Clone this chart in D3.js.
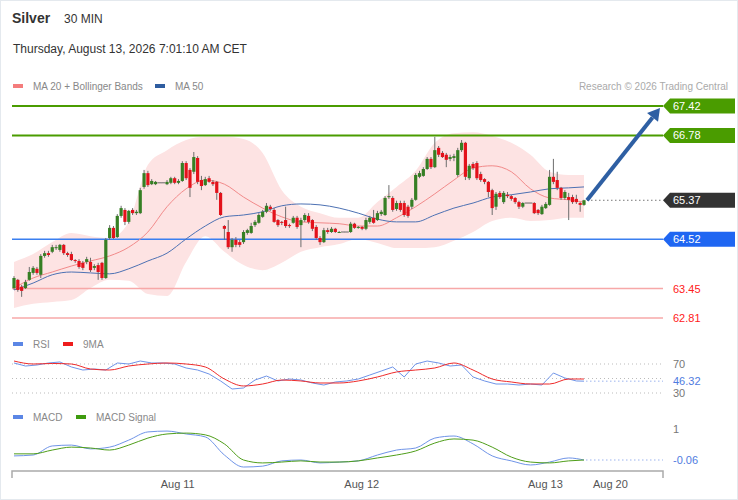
<!DOCTYPE html>
<html>
<head>
<meta charset="utf-8">
<style>
  body { margin: 0; background: #fff; }
  svg text { font-family: "Liberation Sans", Arial, sans-serif; }
</style>
</head>
<body>
<div id="chart"></div>
<script src="https://cdnjs.cloudflare.com/ajax/libs/d3/7.8.5/d3.min.js"></script>
<script>
// ---------------- data (30 min candles, Silver) ----------------
var opens = [63.46,63.64,63.49,63.46,63.64,63.79,63.88,63.75,64.16,64.22,
  64.25,64.33,64.29,64.40,64.22,64.20,64.07,64.05,64.01,64.03,
  64.03,63.90,63.96,64.01,63.68,64.55,64.77,64.57,65.03,65.16,
  64.90,65.16,65.09,65.09,65.66,65.96,65.72,65.72,65.75,65.75,
  65.72,65.75,65.85,65.75,65.79,66.18,66.03,65.99,66.29,65.81,
  65.70,65.85,65.77,65.77,65.53,64.81,64.68,64.35,64.51,64.46,
  64.46,64.66,64.66,64.83,64.88,65.01,65.12,65.23,65.16,64.94,
  64.90,64.94,64.83,64.88,64.99,64.83,64.94,65.03,64.94,64.79,
  64.55,64.46,64.72,64.68,64.75,64.68,64.68,64.68,64.68,64.86,
  64.77,64.79,64.75,64.90,64.99,64.94,65.07,65.05,65.44,65.42,
  65.18,65.31,65.31,65.23,65.23,65.38,65.88,65.90,66.05,66.27,
  66.09,66.51,66.40,66.36,66.27,66.29,65.92,66.46,66.62,65.85,
  66.16,66.18,65.94,65.83,65.77,65.59,65.23,65.53,65.33,65.49,
  65.46,65.42,65.33,65.23,65.31,65.31,65.31,65.16,65.07,65.20,
  65.27,65.88,65.81,65.64,65.42,65.44,65.44,65.40,65.31,65.27];
var highs = [63.72,63.66,63.53,63.64,63.92,63.94,63.92,64.20,64.27,64.27,
  64.40,64.40,64.42,64.42,64.25,64.25,64.09,64.09,64.05,64.14,
  64.12,63.98,64.01,64.03,64.55,64.83,64.81,65.07,65.25,65.20,
  65.16,65.20,65.16,65.64,66.03,66.01,65.83,65.79,65.75,65.75,
  65.81,65.88,65.88,65.83,66.22,66.22,66.07,66.42,66.33,65.90,
  65.88,65.90,65.81,65.79,65.55,64.83,64.94,64.55,64.57,64.51,
  64.72,64.75,64.88,64.94,65.09,65.16,65.31,65.27,65.20,64.96,
  64.92,65.23,64.86,65.03,65.03,64.99,65.09,65.09,64.96,64.83,
  64.59,64.77,64.77,64.79,64.77,64.70,64.68,64.68,64.90,64.88,
  64.81,64.81,64.99,65.03,65.16,65.14,65.16,65.46,65.70,65.46,
  65.36,65.36,65.36,65.27,65.42,65.96,66.01,66.09,66.31,66.31,
  66.75,66.55,66.44,66.40,66.36,66.38,66.51,66.68,66.64,66.16,
  66.20,66.22,65.99,65.85,65.79,65.62,65.55,65.57,65.57,65.55,
  65.49,65.44,65.36,65.33,65.31,65.31,65.33,65.18,65.27,65.33,
  66.03,66.27,65.99,65.66,65.59,65.53,65.49,65.49,65.33,65.38];
var lows = [63.42,63.38,63.27,63.44,63.62,63.75,63.75,63.68,64.12,64.14,
  64.22,64.29,64.25,64.18,64.14,64.05,64.01,63.88,63.85,63.98,
  63.81,63.85,63.64,63.64,63.66,64.51,64.53,64.55,64.99,64.83,
  64.86,65.05,65.05,65.07,65.62,65.66,65.70,65.70,65.75,65.75,
  65.70,65.72,65.72,65.72,65.77,65.81,65.44,65.94,65.72,65.59,
  65.68,65.75,65.68,65.38,65.03,64.51,64.31,64.25,64.35,64.35,
  64.42,64.62,64.64,64.79,64.86,64.99,65.09,65.14,64.88,64.79,
  64.83,64.77,64.77,64.86,64.75,64.35,64.90,64.86,64.70,64.51,
  64.40,64.44,64.64,64.66,64.66,64.66,64.68,64.68,64.66,64.75,
  64.75,64.72,64.72,64.86,64.86,64.92,65.03,65.03,65.40,65.12,
  65.14,65.12,65.01,64.99,65.18,65.36,65.85,65.88,66.03,66.05,
  66.07,66.31,66.29,66.09,66.22,66.22,65.88,66.42,65.81,65.81,
  66.03,65.81,65.77,65.72,65.44,65.05,65.16,65.40,65.29,65.42,
  65.36,65.29,65.18,65.20,65.31,65.31,65.07,65.05,65.05,65.18,
  65.25,65.72,65.59,65.38,65.38,64.94,65.29,65.29,65.12,65.25];
var closes = [63.68,63.42,63.40,63.59,63.81,63.90,63.79,64.16,64.22,64.18,
  64.35,64.35,64.40,64.22,64.18,64.07,64.05,63.92,63.90,64.09,
  63.85,63.94,63.81,63.68,64.51,64.77,64.55,65.03,65.20,64.90,
  65.14,65.09,65.12,65.59,65.96,65.70,65.79,65.77,65.75,65.75,
  65.77,65.85,65.75,65.79,66.18,65.85,65.64,66.31,65.77,65.68,
  65.83,65.77,65.72,65.53,65.05,64.75,64.35,64.51,64.40,64.40,
  64.68,64.72,64.81,64.90,65.05,65.12,65.25,65.18,64.90,64.83,
  64.88,64.81,64.81,64.99,64.79,64.94,65.05,64.90,64.75,64.55,
  64.46,64.72,64.68,64.75,64.68,64.68,64.68,64.68,64.86,64.77,
  64.79,64.75,64.94,64.99,64.88,65.09,65.12,65.42,65.46,65.16,
  65.31,65.16,65.05,65.03,65.38,65.92,65.96,66.05,66.27,66.09,
  66.46,66.36,66.31,66.25,66.31,66.33,66.46,66.62,65.88,66.12,
  66.07,65.85,65.81,65.77,65.55,65.20,65.51,65.44,65.53,65.46,
  65.40,65.33,65.23,65.31,65.31,65.31,65.09,65.09,65.23,65.29,
  65.88,65.77,65.64,65.42,65.55,65.38,65.33,65.33,65.27,65.37];

// indicators read every 5 candles (last point = last candle)
var indIdx = d3.range(0, 150, 5).concat([149]);
var ma20 = [63.46,63.68,63.81,63.94,64.05,64.16,64.35,64.68,65.23,65.62,
  65.81,65.72,65.44,65.20,65.01,64.90,64.88,64.86,64.81,64.81,
  64.99,65.23,65.51,65.81,66.07,66.12,65.99,65.62,65.42,65.38,65.33];
var ma50 = [63.42,63.57,63.75,63.81,63.79,63.77,63.88,64.05,64.22,64.53,
  64.81,65.01,65.05,65.12,65.25,65.29,65.27,65.20,65.09,64.96,
  64.90,64.90,65.05,65.20,65.31,65.44,65.49,65.55,65.62,65.64,65.66];
var bbUpper = [64.03,64.20,64.46,64.66,64.59,64.55,64.90,66.14,66.46,66.68,
  66.75,66.75,66.70,66.40,65.59,65.23,65.09,64.99,64.99,65.33,
  65.66,66.01,66.62,66.83,66.85,66.77,66.62,66.36,65.99,65.92,65.92];
var bbLower = [63.03,63.12,63.16,63.20,63.46,63.64,63.62,63.33,63.29,64.03,
  64.59,64.25,63.96,63.85,64.01,64.25,64.35,64.42,64.53,64.44,
  64.33,64.33,64.35,64.49,64.68,64.92,64.99,64.92,64.94,64.99,64.99];

// RSI read every 3 candles
var rsiIdx = d3.range(0, 150, 3).concat([149]);
var rsi = [71.4,67.2,68.6,71.4,72.8,65.9,61.7,63.1,61.7,71.4,
  70.0,74.1,71.4,71.4,70.0,64.5,61.7,56.2,46.6,35.5,
  36.9,47.9,53.4,46.6,49.3,47.9,43.8,41.0,45.2,46.6,
  49.3,54.8,60.3,65.9,52.1,70.0,74.1,71.4,67.2,68.6,
  52.1,46.6,42.4,42.4,41.0,42.4,41.0,57.6,50.7,46.6,46.32];
var rsiMa = [74.1,70.0,70.7,70.0,63.1,61.7,67.2,70.0,71.4,70.0,
  65.9,49.3,39.7,42.4,47.9,46.6,43.8,43.8,46.6,52.1,
  59.0,61.7,64.5,71.4,61.7,49.3,45.2,42.4,42.4,49.3,49.3];
var macd = [0.08,0.11,0.42,0.45,0.32,0.38,0.62,0.90,0.93,0.83,
  0.73,0.11,-0.30,-0.27,-0.09,-0.06,-0.16,-0.13,-0.09,0.11,
  0.28,0.35,0.69,0.76,0.49,0.08,-0.09,-0.23,-0.13,0.01,-0.06];
var macdSignal = [0.15,0.15,0.28,0.38,0.35,0.28,0.45,0.69,0.83,0.86,
  0.80,0.49,-0.06,-0.16,-0.13,-0.09,-0.13,-0.13,-0.09,0.01,
  0.11,0.25,0.52,0.66,0.62,0.38,0.04,-0.13,-0.16,-0.09,-0.06];

var levels = [67.42, 66.78, 65.37, 64.52, 63.45, 62.81];
var levelKind = ["res", "res", "last", "sup", "low", "low"];
var rsiTicks = [70, 30];
var dayLabels = ["Aug 11", "Aug 12", "Aug 13", "Aug 20"];
var dayIdx = [42.8, 90.9, 138.9, 155.9];

// ---------------- layout ----------------
var W = 738, H = 500, left = 12, right = 663;
var green = "#4a9c00", upCol = "#367f24", downCol = "#e3121b";

var x = d3.scaleLinear().domain([0, 149]).range([14, 584]);
var y = d3.scaleLinear().domain([62.81, 67.42]).range([318, 106]);
var yr = d3.scaleLinear().domain([30, 70]).range([393, 364]);
var ym = d3.scaleLinear().domain([-0.06, 1]).range([460, 429]);

var svg = d3.select("#chart").append("svg")
  .attr("width", W).attr("height", H);

svg.append("rect").attr("x", 0.5).attr("y", 0.5)
  .attr("width", W - 1).attr("height", H - 1)
  .attr("fill", "#fff").attr("stroke", "#e4e9ee");

// title
svg.append("text").attr("x", 12).attr("y", 23).attr("font-size", 14)
  .attr("font-weight", "bold").attr("fill", "#333").text("Silver");
svg.append("text").attr("x", 64).attr("y", 23).attr("font-size", 12)
  .attr("fill", "#333").text("30 MIN");
svg.append("text").attr("x", 13).attr("y", 53).attr("font-size", 12)
  .attr("fill", "#333").text("Thursday, August 13, 2026 7:01:10 AM CET");

function legend(items, ly) {
  items.forEach(function(it) {
    svg.append("rect").attr("x", it[0]).attr("y", ly - 6).attr("width", 10)
      .attr("height", 4).attr("fill", it[2]);
    svg.append("text").attr("x", it[0] + 20).attr("y", ly).attr("font-size", 10)
      .attr("fill", "#888").text(it[1]);
  });
}
legend([[13, "MA 20 + Bollinger Bands", "#f47c7c"], [155, "MA 50", "#2f5da0"]], 90);
legend([[13, "RSI", "#5b86e5"], [63, "9MA", "#ee1c1c"]], 348);
legend([[13, "MACD", "#5b86e5"], [76, "MACD Signal", "#3e9b0e"]], 421);

svg.append("text").attr("x", 728).attr("y", 90).attr("text-anchor", "end")
  .attr("font-size", 10).attr("fill", "#aaa").text("Research \u00a9 2026 Trading Central");

// ---------------- main price panel ----------------
var bandArea = d3.area()
  .x(function(d, i) { return x(indIdx[i]); })
  .y0(function(d, i) { return y(bbLower[i]); })
  .y1(function(d) { return y(d); })
  .curve(d3.curveMonotoneX);
svg.append("path").datum(bbUpper).attr("d", bandArea).attr("fill", "#fde3e3");

// level lines
levels.forEach(function(v, i) {
  var k = levelKind[i];
  if (k == "last") return;
  var col = k == "res" ? green : (k == "sup" ? "#3a7ff0" : "#f7a8a8");
  svg.append("line").attr("x1", left).attr("x2", right)
    .attr("y1", y(v)).attr("y2", y(v))
    .attr("stroke", col).attr("stroke-width", k == "res" ? 2 : 1.5);
});

function indLine(vals, col, sc) {
  svg.append("path").datum(vals)
    .attr("d", d3.line()
      .x(function(d, i) { return x(indIdx[i]); })
      .y(function(d) { return sc(d); })
      .curve(d3.curveMonotoneX))
    .attr("fill", "none").attr("stroke", col).attr("stroke-width", 1);
}
indLine(ma20, "#f28a8a", y);
indLine(ma50, "#4d71b3", y);

// candles
var candles = svg.append("g");
closes.forEach(function(c, i) {
  var o = opens[i], cx = x(i);
  var flat = (highs[i] == lows[i]);
  if (flat) {
    candles.append("line").attr("x1", cx - 2).attr("x2", cx + 2)
      .attr("y1", y(c)).attr("y2", y(c)).attr("stroke", "#666");
    return;
  }
  candles.append("line").attr("x1", cx).attr("x2", cx)
    .attr("y1", y(highs[i])).attr("y2", y(lows[i]))
    .attr("stroke", "#6d6d6d").attr("stroke-width", 1);
  var top = y(Math.max(o, c)), bot = y(Math.min(o, c));
  candles.append("rect").attr("x", cx - 1.6).attr("width", 3.2)
    .attr("y", top).attr("height", Math.max(1, bot - top))
    .attr("fill", c >= o ? upCol : downCol);
});

// last price dotted line
svg.append("line").attr("x1", x(149) + 3).attr("x2", right)
  .attr("y1", y(levels[2])).attr("y2", y(levels[2]))
  .attr("stroke", "#777").attr("stroke-dasharray", "1.5,2.5");

// projection arrow
var ax0 = x(149) + 3, ay0 = y(levels[2]), ax1 = right - 3, ay1 = y(levels[0]) + 2;
var ang = Math.atan2(ay1 - ay0, ax1 - ax0);
var hx = ax1 - 12 * Math.cos(ang), hy = ay1 - 12 * Math.sin(ang);
svg.append("line").attr("x1", ax0).attr("y1", ay0).attr("x2", hx).attr("y2", hy)
  .attr("stroke", "#2e5fa3").attr("stroke-width", 4);
svg.append("polygon").attr("fill", "#2e5fa3")
  .attr("points", [[ax1, ay1],
    [hx + 7 * Math.sin(ang), hy - 7 * Math.cos(ang)],
    [hx - 7 * Math.sin(ang), hy + 7 * Math.cos(ang)]].join(" "));

// level labels
levels.forEach(function(v, i) {
  var k = levelKind[i], yy = y(v);
  if (k == "low") {
    svg.append("text").attr("x", 673).attr("y", yy + 4).attr("font-size", 11)
      .attr("fill", "#ff2020").text(v.toFixed(2));
    return;
  }
  var col = k == "res" ? green : (k == "last" ? "#333" : "#1f66f2");
  svg.append("polygon").attr("fill", col)
    .attr("points", [[right, yy], [670, yy - 7.5], [735, yy - 7.5], [735, yy + 7.5], [670, yy + 7.5]].join(" "));
  svg.append("text").attr("x", 673).attr("y", yy + 4).attr("font-size", 11)
    .attr("fill", "#fff").text(v.toFixed(2));
});

// ---------------- RSI panel ----------------
[70, 50, 30].forEach(function(v) {
  svg.append("line").attr("x1", left).attr("x2", right)
    .attr("y1", yr(v)).attr("y2", yr(v))
    .attr("stroke", "#bbb").attr("stroke-dasharray", "1,3");
});
svg.append("path").datum(rsi)
  .attr("d", d3.line().x(function(d, i) { return x(rsiIdx[i]); }).y(function(d) { return yr(d); }))
  .attr("fill", "none").attr("stroke", "#6f94e8").attr("stroke-width", 1);
indLine(rsiMa, "#ee2a2a", yr);
var rsiLast = rsi[rsi.length - 1];
svg.append("line").attr("x1", x(149) + 2).attr("x2", right)
  .attr("y1", yr(rsiLast)).attr("y2", yr(rsiLast))
  .attr("stroke", "#9bb3ee").attr("stroke-dasharray", "1.5,2.5");
rsiTicks.forEach(function(v) {
  svg.append("text").attr("x", 673).attr("y", yr(v) + 4).attr("font-size", 11)
    .attr("fill", "#777").text(v);
});
svg.append("text").attr("x", 673).attr("y", yr(rsiLast) + 4).attr("font-size", 11)
  .attr("fill", "#4f7be0").text(rsiLast.toFixed(2));

// ---------------- MACD panel ----------------
indLine(macd, "#6f94e8", ym);
indLine(macdSignal, "#4f9e1a", ym);
var macdLast = macd[macd.length - 1];
svg.append("line").attr("x1", x(149) + 2).attr("x2", right)
  .attr("y1", ym(macdLast)).attr("y2", ym(macdLast))
  .attr("stroke", "#9bb3ee").attr("stroke-dasharray", "1.5,2.5");
svg.append("text").attr("x", 673).attr("y", ym(1) + 4).attr("font-size", 11)
  .attr("fill", "#777").text("1");
svg.append("text").attr("x", 673).attr("y", ym(macdLast) + 4).attr("font-size", 11)
  .attr("fill", "#4f7be0").text(macdLast.toFixed(2));

// ---------------- x axis ----------------
svg.append("path").attr("d", "M" + left + ",478V471H" + right + "V478")
  .attr("fill", "none").attr("stroke", "#aaa").attr("stroke-width", 1.5);
dayLabels.forEach(function(t, i) {
  svg.append("text").attr("x", x(dayIdx[i])).attr("y", 488)
    .attr("text-anchor", "middle").attr("font-size", 11)
    .attr("fill", "#555").text(t);
});
</script>
</body>
</html>
